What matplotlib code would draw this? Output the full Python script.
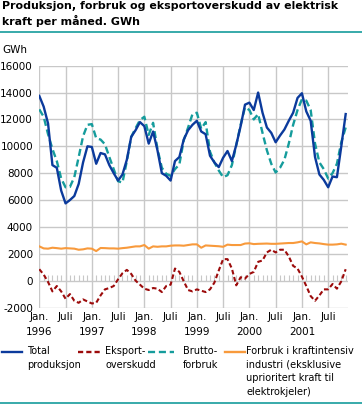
import matplotlib
matplotlib.use("Agg")
import matplotlib.pyplot as plt
from matplotlib.lines import Line2D
import numpy as np

# Monthly values, Jan 1996 - Nov 2001 (GWh)
total_produksjon = [
    13750, 12950, 11700, 8600, 8400, 6700, 5750, 6000, 6300, 7200, 8800, 10000,
    9950, 8700, 9500, 9400, 8600, 8000, 7450, 7900, 9000, 10700, 11200, 11800,
    11500, 10200, 11100, 9700, 8000, 7800, 7450, 8900, 9200, 10500, 11200, 11600,
    11900, 11100, 10900, 9300, 8800, 8450, 9150, 9650, 8900, 10100, 11500, 13100,
    13250, 12700, 14000, 12500, 11400, 11000, 10300, 10800, 11250, 11900, 12500, 13600,
    13950, 12600, 11900, 9200, 7900, 7500, 6950, 7750, 7700, 10000, 12400,
]
eksportoverskudd = [
    850, 450, -100, -800, -400, -800, -1350, -1000, -1500, -1650, -1400, -1550,
    -1700, -1650, -1100, -650, -550, -400, 100, 550, 800, 500, 0, -300,
    -600, -700, -550, -600, -850, -400, -300, 900, 650, -50, -700, -800,
    -650, -750, -850, -650, -150, 750, 1600, 1600, 900, -350, 250, 150,
    500, 650, 1400, 1500, 2100, 2300, 2100, 2300, 2300, 1800, 1100, 900,
    300, -400, -1150, -1500, -1100, -650, -650, -250, -600, -50, 850,
]
bruttoforbruk = [
    12750, 12200, 10900, 9800, 8900, 7600, 6950, 6980, 7700, 9200, 10750, 11600,
    11650, 10600, 10500, 10150, 9200, 8300, 7400, 7300, 8900, 10700, 11350, 11950,
    12200, 10850, 11750, 9800, 8400, 7950, 7800, 8300, 8650, 10450, 11400, 12400,
    12500, 11300, 11800, 9600, 8800, 8200, 7700, 7850, 8600, 10100, 11600, 12900,
    12700, 12000, 12400, 11000, 9700, 8700, 8050, 8400, 9000, 10200, 11600, 12700,
    13500, 13400, 12700, 10200, 8800, 8300, 7600, 8000, 8700, 10300, 11400,
]
kraftintensiv = [
    2550, 2400, 2380, 2450, 2420, 2380, 2420, 2400, 2380, 2300, 2330, 2400,
    2380, 2200, 2430, 2420, 2400, 2400, 2380, 2420, 2450, 2500, 2550, 2550,
    2650, 2380, 2550, 2520, 2550, 2550, 2600, 2620, 2620, 2600, 2650, 2700,
    2700, 2450, 2620, 2600, 2580, 2560, 2520, 2680, 2650, 2650, 2650, 2760,
    2780, 2720, 2740, 2750, 2760, 2740, 2740, 2760, 2780, 2800, 2800, 2850,
    2920, 2700, 2850, 2800, 2770, 2720, 2680, 2680, 2700, 2750, 2680,
]
years = ["1996", "1997", "1998", "1999", "2000", "2001"]
y_ticks = [-2000, 0, 2000, 4000, 6000, 8000, 10000, 12000, 14000, 16000]

months = np.arange(len(total_produksjon))
tick_pos = np.arange(0, 67, 6)
tick_labels = []
for k in range(len(tick_pos)):
    if k % 2 == 0:
        tick_labels.append("Jan.\n" + years[k // 2])
    else:
        tick_labels.append("Juli")

BLUE = "#0b3a9c"
RED = "#9c0b0b"
TEAL = "#159c9c"
ORANGE = "#f89a3c"
GRID = "#c8c8c8"

plt.rcParams["font.family"] = "DejaVu Sans"
fig = plt.figure(figsize=(3.62, 4.04), dpi=100)
ax = fig.add_axes([39.3 / 362, 1 - 307.5 / 404, (348.3 - 39.3) / 362, (307.5 - 65.7) / 404])

ax.vlines(months, 0, 450, color=GRID, lw=0.8, zorder=1)
ax.plot(months, kraftintensiv, color=ORANGE, lw=1.5, zorder=3)
ax.plot(months, eksportoverskudd, color=RED, lw=1.5, dashes=(2.2, 1.3), zorder=3)
ax.plot(months, bruttoforbruk, color=TEAL, lw=1.7, dashes=(3, 1.6), zorder=3)
ax.plot(months, total_produksjon, color=BLUE, lw=1.7, zorder=4)

ax.set_xlim(0, 70.6)
ax.set_ylim(-2000, 16000)
ax.set_yticks(y_ticks)
ax.set_yticklabels([str(v) for v in y_ticks])
ax.set_xticks(tick_pos)
ax.set_xticklabels(tick_labels, linespacing=1.6)
ax.grid(True, color=GRID, lw=1)
ax.set_axisbelow(True)
for s in ax.spines.values():
    s.set_visible(False)
ax.tick_params(length=0, labelsize=7.5, colors="black")
ax.tick_params(axis="y", pad=4.5)
ax.tick_params(axis="x", pad=3.5)

# title, unit, separators
fig.text(2 / 362, 1 - 1 / 404, "Produksjon, forbruk og eksportoverskudd av elektrisk\nkraft per måned. GWh",
         fontsize=7.9, fontweight="bold", va="top", ha="left", linespacing=1.35)
fig.add_artist(Line2D([0, 1], [1 - 32 / 404] * 2, color=TEAL, lw=1.2))
fig.add_artist(Line2D([0, 1], [1 - 402.5 / 404] * 2, color=TEAL, lw=1.2))
fig.text(2 / 362, 1 - 50 / 404, "GWh", fontsize=7.5, va="center", ha="left")

# legend
legend_items = [
    (2, 22, 27, BLUE, None, "Total\nproduksjon"),
    (78, 100, 105, RED, (2.2, 1.3), "Eksport-\noverskudd"),
    (148, 174, 183, TEAL, (3, 1.6), "Brutto-\nforbruk"),
    (225, 245, 246, ORANGE, None, "Forbruk i kraftintensiv\nindustri (eksklusive\nuprioritert kraft til\nelektrokjeler)"),
]
ly = 1 - 352 / 404
for x0, x1, tx, col, dash, label in legend_items:
    ln = Line2D([x0 / 362, x1 / 362], [ly, ly], color=col, lw=1.7)
    if dash:
        ln.set_dashes(dash)
    fig.add_artist(ln)
    fig.text(tx / 362, 1 - 346 / 404, label, fontsize=7, va="top", ha="left", linespacing=1.45)

fig.savefig("out.png", dpi=100)
